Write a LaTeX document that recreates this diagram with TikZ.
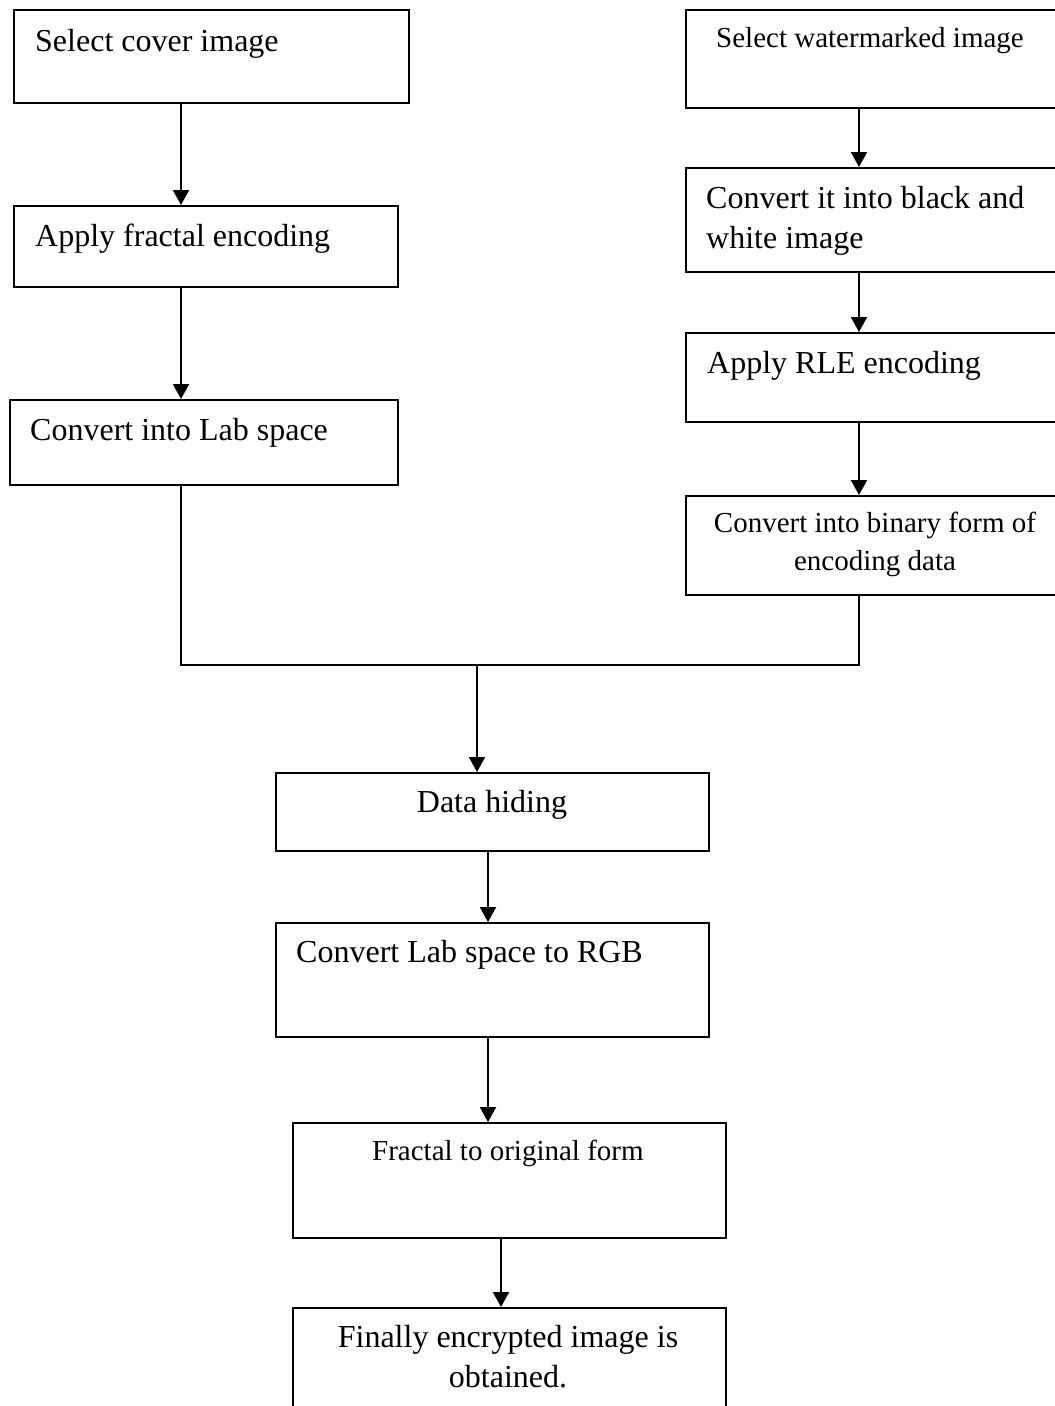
\documentclass[tikz,border=0pt]{standalone}
\usepackage{fontspec}
\setmainfont{Liberation Serif}
\usetikzlibrary{arrows.meta}
\tikzset{
  box/.style={draw=black, line width=2pt, rectangle, inner sep=0pt, anchor=north west},
  txt/.style={inner sep=0pt, font=\fontsize{32}{40}\selectfont, text=black},
  stxt/.style={inner sep=0pt, font=\fontsize{29}{38}\selectfont, text=black},
  arr/.style={draw=black, line width=2pt, -{Triangle[length=15pt,width=16pt]}},
  con/.style={draw=black, line width=2pt}
}
\begin{document}
\begin{tikzpicture}[x=1pt,y=-1pt]
\useasboundingbox (0,0) rectangle (1055,1406);
\fill[white] (0,0) rectangle (1055,1406);
% left column
\node[box, minimum width=395pt, minimum height=93pt] (b1) at (13,9) {};
\node[box, minimum width=384pt, minimum height=81pt] (b2) at (13,205) {};
\node[box, minimum width=388pt, minimum height=85pt] (b3) at (9,399) {};
% right column
\node[box, minimum width=375pt, minimum height=98pt] (bA) at (685,9) {};
\node[box, minimum width=375pt, minimum height=104pt] (bB) at (685,167) {};
\node[box, minimum width=375pt, minimum height=89pt] (bC) at (685,332) {};
\node[box, minimum width=375pt, minimum height=99pt] (bD) at (685,495) {};
% middle column
\node[box, minimum width=433pt, minimum height=78pt] (bE) at (275,772) {};
\node[box, minimum width=433pt, minimum height=114pt] (bF) at (275,922) {};
\node[box, minimum width=433pt, minimum height=115pt] (bG) at (292,1122) {};
\node[box, minimum width=433pt, minimum height=130pt] (bH) at (292,1307) {};
% texts
\node[txt, anchor=base west] (t1) at (35,51) {Select cover image};
\node[txt, anchor=base west] (t2) at (35,246) {Apply fractal encoding};
\node[txt, anchor=base west] (t3) at (30,440) {Convert into Lab space};
\node[stxt, anchor=base] (tA) at (870,47) {Select watermarked image};
\node[txt, anchor=base west, align=left] (tB) at (706,248) {Convert it into black and\\white image};
\node[txt, anchor=base west] (tC) at (707,373) {Apply RLE encoding};
\node[stxt, anchor=base, align=center] (tD) at (875,570) {Convert into binary form of\\encoding data};
\node[txt, anchor=base] (tE) at (492,812) {Data hiding};
\node[txt, anchor=base west] (tF) at (296,962) {Convert Lab space to RGB};
\node[stxt, anchor=base west] (tG) at (372,1160) {Fractal to original form};
\node[txt, anchor=base, align=center] (tH) at (508,1387) {Finally encrypted image is\\obtained.};
% connector columns
\coordinate (xL) at (181,0);
\coordinate (xR) at (859,0);
\coordinate (xM) at (477,0);
\coordinate (xN) at (488,0);
\coordinate (xO) at (501,0);
\coordinate (jn) at (477,665);
% arrows
\draw[arr] (b1.south -| xL) -- (b2.north -| xL);
\draw[arr] (b2.south -| xL) -- (b3.north -| xL);
\draw[arr] (bA.south -| xR) -- (bB.north -| xR);
\draw[arr] (bB.south -| xR) -- (bC.north -| xR);
\draw[arr] (bC.south -| xR) -- (bD.north -| xR);
\draw[con] (b3.south -| xL) -- (jn -| xL) -- (jn -| xR) -- (bD.south -| xR);
\draw[arr] (jn) -- (bE.north -| xM);
\draw[arr] (bE.south -| xN) -- (bF.north -| xN);
\draw[arr] (bF.south -| xN) -- (bG.north -| xN);
\draw[arr] (bG.south -| xO) -- (bH.north -| xO);
\end{tikzpicture}
\end{document}
